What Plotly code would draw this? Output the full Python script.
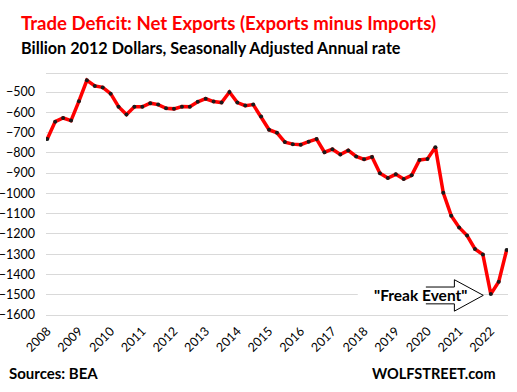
import plotly.graph_objects as go

# ---- data (Billion 2012 dollars, SAAR), quarterly 2008Q1 .. 2022Q3 ----
years = list(range(2008, 2023))
quarters = [f"{y}-Q{q}" for y in years for q in range(1, 5)][:59]
net_exports = [
    -732, -646, -628, -641, -545, -442, -470, -477, -508, -572,
    -611, -573, -573, -555, -562, -580, -583, -572, -573, -548,
    -533, -547, -552, -500, -552, -567, -562, -621, -686, -701,
    -747, -757, -760, -745, -732, -797, -782, -808, -788, -818,
    -832, -820, -901, -924, -906, -929, -911, -835, -830, -772,
    -997, -1110, -1168, -1208, -1274, -1302, -1497, -1436, -1279,
]
tick_vals_y = list(range(-500, -1601, -100))
year_ticks = [f"{y}-Q1" for y in years]
year_labels = [str(y) for y in years]

FONT = "Lato"

fig = go.Figure()
fig.add_trace(go.Scatter(
    x=quarters, y=net_exports, mode="lines+markers",
    line=dict(color="#FF0000", width=3.5),
    marker=dict(color="#1a1a1a", size=4),
    hoverinfo="skip", showlegend=False,
))

fig.update_layout(
    width=517, height=392,
    margin=dict(l=46, r=9, t=74, b=77),
    paper_bgcolor="white", plot_bgcolor="white",
    font=dict(family=FONT, color="#000000"),
    xaxis=dict(
        type="category", range=[-0.16, 58.17], automargin=False,
        tickmode="array", tickvals=year_ticks, ticktext=year_labels,
        tickangle=-45, tickfont=dict(size=12.5, color="#000000"),
        showgrid=False, zeroline=False,
        showline=True, mirror=True, linecolor="#D9D9D9", linewidth=1,
        ticks="", ticklabelstandoff=3,
    ),
    yaxis=dict(
        range=[-1600, -411], tickmode="array", tickvals=tick_vals_y, automargin=False,
        tickfont=dict(size=12.5, color="#000000"),
        showgrid=True, gridcolor="#D9D9D9", gridwidth=1,
        zeroline=False, ticks="", ticklabelstandoff=10,
    ),
)

# white box behind the annotation text (hides gridline)
fig.add_shape(type="rect", xref="x", yref="y", x0=39.2, x1=47.8, y0=-1545, y1=-1462,
              fillcolor="white", line=dict(width=0), layer="between")
# hollow block arrow
fig.add_shape(type="path", xref="x", yref="y",
              path="M 47.8,-1462 L 51.4,-1462 L 51.4,-1426 L 55.05,-1503 L 51.4,-1581 L 51.4,-1545 L 47.8,-1545",
              fillcolor="white", line=dict(color="#000000", width=1), layer="between")

fig.add_annotation(text='"Freak Event"', x=47.06, y=-1503, xref="x", yref="y",
                   showarrow=False, xanchor="center", yanchor="middle",
                   font=dict(family=FONT, size=15.5, color="#000000", weight="bold"))

fig.add_annotation(text="Trade Deficit: Net Exports (Exports minus Imports)",
                   xref="paper", yref="paper", x=(19.3 - 46) / 462, y=(315 - 23) / 241,
                   xanchor="left", yanchor="middle", showarrow=False,
                   font=dict(family=FONT, size=18.6, color="#FF0000", weight="bold"))
fig.add_annotation(text="Billion 2012 Dollars, Seasonally Adjusted Annual rate",
                   xref="paper", yref="paper", x=(19.3 - 46) / 462, y=(315 - 48) / 241,
                   xanchor="left", yanchor="middle", showarrow=False,
                   font=dict(family=FONT, size=16.2, color="#000000", weight="bold"))
fig.add_annotation(text="Sources: BEA",
                   xref="paper", yref="paper", x=(7.3 - 46) / 462, y=(315 - 372.7) / 241,
                   xanchor="left", yanchor="middle", showarrow=False,
                   font=dict(family=FONT, size=15, color="#000000", weight="bold"))
fig.add_annotation(text="WOLFSTREET.com",
                   xref="paper", yref="paper", x=(498.3 - 46) / 462, y=(315 - 373) / 241,
                   xanchor="right", yanchor="middle", showarrow=False,
                   font=dict(family=FONT, size=14.5, color="#000000", weight="bold"))

fig.write_html("out.html", config={"displayModeBar": False},
               post_script="document.body.style.margin='0';document.body.style.overflow='hidden';")
